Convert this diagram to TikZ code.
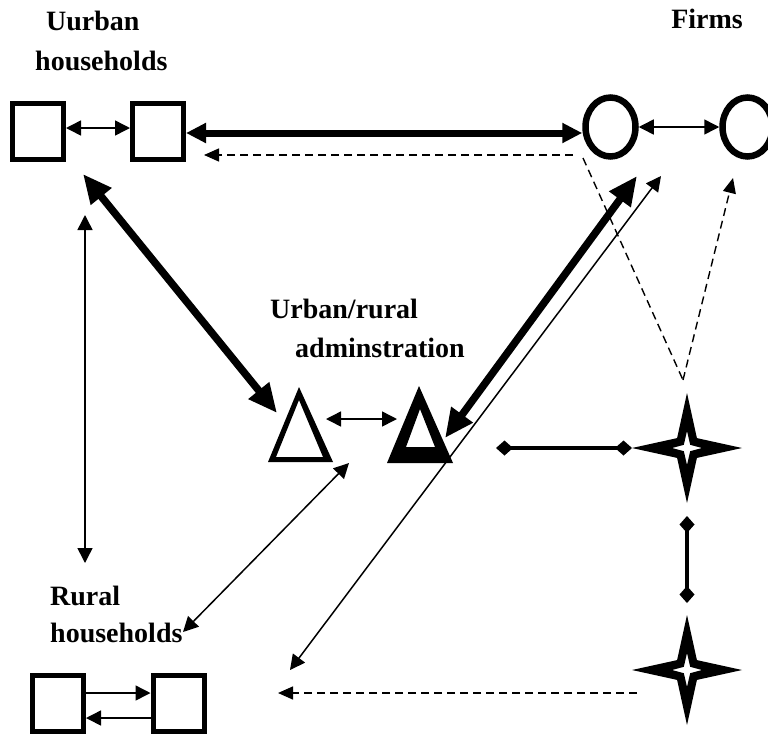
\documentclass[tikz,border=0pt]{standalone}
\usepackage{fontspec}
\setmainfont{Liberation Serif}
\usetikzlibrary{arrows.meta,shapes.geometric}
\newcommand\fourstar[2]{%
  \fill[even odd rule, shift={#1}] (90:55) -- (45:14) -- (0:55) -- (-45:14) -- (-90:55) -- (-135:14) -- (180:55) -- (135:14) -- cycle
    (90:17) -- (45:4.5) -- (0:15) -- (-45:4.5) -- (-90:17) -- (-135:4.5) -- (180:15) -- (135:4.5) -- cycle;
  \coordinate (#2) at #1;}
\begin{document}
\begin{tikzpicture}[x=1pt,y=-1pt,
  lbl/.style={font=\bfseries\fontsize{28}{40}\selectfont, inner sep=0pt, anchor=base west},
  sq/.style={draw, line width=5pt, minimum width=51pt, minimum height=56pt, inner sep=0pt},
  circ/.style={draw, ellipse, line width=6.5pt, minimum width=50pt, minimum height=59pt, inner sep=0pt},
  tarr/.style={line width=1.5pt, {Triangle[length=15pt,width=15pt]}-{Triangle[length=15pt,width=15pt]}},
  tarrone/.style={line width=1.5pt, -{Triangle[length=15pt,width=15pt]}},
  dtip/.style={-{Triangle[length=15pt,width=13pt]}},
  thk/.style={line width=7pt, {Triangle[length=20pt,width=19pt]}-{Triangle[length=20pt,width=19pt]}},
  thkd/.style={line width=7.5pt, {Triangle[length=29pt,width=25pt]}-{Triangle[length=29pt,width=25pt]}},
  dsh/.style={line width=1.4pt, dash pattern=on 8pt off 5pt},
  dia/.style={line width=4pt, {Diamond[length=17pt,width=15pt]}-{Diamond[length=17pt,width=15pt]}},
]
\useasboundingbox (0,0) rectangle (768,737);
\clip (0,0) rectangle (768,737);

% labels
\node[lbl] (uh1) at (46,30) {Uurban};
\node[lbl] (uh2) at (35,70) {households};
\node[lbl,anchor=base east] (firms) at (743,28) {Firms};
\node[lbl] (ad1) at (270,318) {Urban/rural};
\node[lbl] (ad2) at (295,357) {adminstration};
\node[lbl] (rh1) at (50,605) {Rural};
\node[lbl] (rh2) at (50,642) {households};

% households
\node[sq] (s1) at (38,131.5) {};
\node[sq] (s2) at (158,131.5) {};
\node[sq] (b1) at (58,703.5) {};
\node[sq] (b2) at (178.5,703.5) {};

% firms
\node[circ] (c1) at (610.5,127) {};
\node[circ] (c2) at (747.5,127) {};

% administrations
\fill[even odd rule] (299,387) -- (268,462) -- (333,462) -- cycle (299,400) -- (276,457) -- (323,457) -- cycle;
\fill[even odd rule] (419,386) -- (387,463) -- (453,463) -- cycle (420,409) -- (406,447) -- (435,447) -- cycle;

% stars
\fourstar{(687,448)}{st1}
\fourstar{(687,670)}{st2}

% connector ends
\coordinate (dA) at (573,155);
\coordinate (dB) at (204,155);
\coordinate (hA) at (83,174);
\coordinate (hB) at (277,413);
\coordinate (vA) at (85,215);
\coordinate (vB) at (85,563);
\coordinate (t1e) at (326,419);
\coordinate (t2w) at (397,419);
\coordinate (t2n) at (445,438);
\coordinate (c1s) at (637,176);
\coordinate (c1t) at (661,176);
\coordinate (lb) at (290,670);
\coordinate (t1s) at (349,463);
\coordinate (rhe) at (183,632);
\coordinate (dC) at (583,158);
\coordinate (dD) at (683,380);
\coordinate (c2s) at (733,178);
\coordinate (hl) at (496,448);
\coordinate (hr) at (632,448);
\coordinate (vt) at (687,516);
\coordinate (vb) at (687,603);
\coordinate (dE) at (637,693);
\coordinate (dF) at (278,693);

% connectors
\draw[tarr] ([yshift=3.5pt]s1.east) -- ([yshift=3.5pt]s2.west);
\draw[thk] ([yshift=-1.5pt]s2.east) -- ([yshift=-1.5pt]s2.east -| c1.west);
\draw[dsh, dtip] (dA) -- (dB);
\draw[tarr] (c1.east) -- (c2.west);
\draw[thkd] (hA) -- (hB);
\draw[tarr] (vA) -- (vB);
\draw[tarr] (t1e) -- (t2w);
\draw[thkd] (t2n) -- (c1s);
\draw[tarr] (lb) -- (c1t);
\draw[tarr] (t1s) -- (rhe);
\draw[dsh] (dC) -- (dD);
\draw[dsh, dtip] (dD) -- (c2s);
\draw[dia] (hl) -- (hr);
\draw[dia] (vt) -- (vb);
\draw[dsh, dtip] (dE) -- (dF);
\draw[tarrone] ([yshift=10.5pt]b1.east) -- ([yshift=10.5pt]b2.west);
\draw[tarrone] ([yshift=-14.5pt]b2.west) -- ([yshift=-14.5pt]b1.east);
\end{tikzpicture}
\end{document}
